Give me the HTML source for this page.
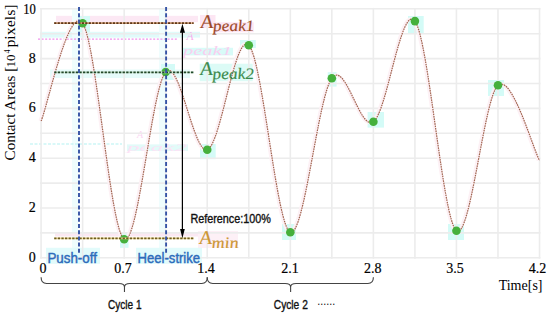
<!DOCTYPE html>
<html><head><meta charset="utf-8"><style>
html,body{margin:0;padding:0;background:#fff;}
svg{display:block;}
.serif{font-family:"Liberation Serif",serif;}
.sans{font-family:"Liberation Sans",sans-serif;}
</style></head><body>
<svg width="550" height="316" viewBox="0 0 550 316">
<rect width="550" height="316" fill="#fff"/>
<g id="ghost">
<rect x="56" y="15.8" width="142" height="6.4" fill="#fce8f4"/>
<rect x="40" y="31.8" width="160" height="5.8" fill="#e0fbfa"/>
<rect x="72" y="8" width="6" height="246" fill="#effdfd"/>
<rect x="159" y="8" width="6" height="246" fill="#effdfd"/>
<rect x="50" y="69.5" width="140" height="8.5" fill="#e6fbfa"/>
<rect x="55" y="232" width="145" height="4.5" fill="#fbe8f2"/>
<rect x="200" y="15" width="15.5" height="13" fill="#fde6f3"/>
<rect x="212.7" y="22.3" width="41" height="10" fill="#fde6f3"/>
<rect x="199.7" y="63.7" width="53" height="17.5" fill="#dcfbf6"/>
<rect x="198" y="231" width="40" height="17" fill="#fdf0f6"/>
<line x1="38" y1="39.2" x2="178" y2="39.2" stroke="#f092ec" stroke-width="1.3" stroke-dasharray="2 1.6"/>
<line x1="30" y1="144" x2="122" y2="144" stroke="#b4f2f2" stroke-width="1.2" stroke-dasharray="3 1.5"/>
<rect x="183" y="47.8" width="50" height="7.6" fill="#d8fbf8"/>
<text x="183" y="55" font-family="Liberation Serif" font-style="italic" font-size="12" fill="#f9d0f0" textLength="49" lengthAdjust="spacingAndGlyphs">peak1</text>
<text x="186.5" y="40" font-family="Liberation Serif" font-style="italic" font-size="11.5" fill="#f6b0ec">A</text>
<rect x="127" y="144.4" width="61" height="6.6" fill="#e2fbf9"/>
<text x="127" y="151" font-family="Liberation Serif" font-style="italic" font-size="11" fill="#fce3f6" textLength="60" lengthAdjust="spacingAndGlyphs">peak2</text>
<text x="137" y="138" font-family="Liberation Serif" font-style="italic" font-size="10" fill="#fbd8f3">A</text>
</g>
<g fill="#d4fbf7"><rect x="78.0" y="16.0" width="12.0" height="16.0"/><rect x="120.0" y="232.0" width="8.5" height="15.8"/><rect x="161.0" y="64.0" width="14.0" height="16.0"/><rect x="200.0" y="144.0" width="15.7" height="15.2"/><rect x="240.0" y="40.0" width="15.8" height="8.0"/><rect x="282.0" y="224.0" width="14.0" height="16.0"/><rect x="327.7" y="72.2" width="8.9" height="14.4"/><rect x="367.6" y="112.0" width="16.4" height="15.6"/><rect x="408.0" y="16.0" width="15.7" height="17.5"/><rect x="448.0" y="224.0" width="16.0" height="16.0"/><rect x="488.0" y="80.0" width="16.0" height="16.0"/></g>
<rect x="46" y="247.8" width="54" height="16" fill="#e2fbfb"/>
<rect x="136" y="247.8" width="66" height="16" fill="#e2fbfb"/>
<g stroke="#ececec" stroke-width="1.6" fill="none"><line x1="41.10" y1="7.90" x2="41.10" y2="258.70"/><line x1="82.63" y1="7.90" x2="82.63" y2="258.70"/><line x1="124.17" y1="7.90" x2="124.17" y2="258.70"/><line x1="165.70" y1="7.90" x2="165.70" y2="258.70"/><line x1="207.24" y1="7.90" x2="207.24" y2="258.70"/><line x1="248.77" y1="7.90" x2="248.77" y2="258.70"/><line x1="290.31" y1="7.90" x2="290.31" y2="258.70"/><line x1="331.84" y1="7.90" x2="331.84" y2="258.70"/><line x1="373.38" y1="7.90" x2="373.38" y2="258.70"/><line x1="414.91" y1="7.90" x2="414.91" y2="258.70"/><line x1="456.45" y1="7.90" x2="456.45" y2="258.70"/><line x1="497.98" y1="7.90" x2="497.98" y2="258.70"/><line x1="539.51" y1="7.90" x2="539.51" y2="258.70"/><line x1="40.20" y1="257.80" x2="540.41" y2="257.80"/><line x1="40.20" y1="232.90" x2="540.41" y2="232.90"/><line x1="40.20" y1="208.00" x2="540.41" y2="208.00"/><line x1="40.20" y1="183.10" x2="540.41" y2="183.10"/><line x1="40.20" y1="158.20" x2="540.41" y2="158.20"/><line x1="40.20" y1="133.30" x2="540.41" y2="133.30"/><line x1="40.20" y1="108.40" x2="540.41" y2="108.40"/><line x1="40.20" y1="83.50" x2="540.41" y2="83.50"/><line x1="40.20" y1="58.60" x2="540.41" y2="58.60"/><line x1="40.20" y1="33.70" x2="540.41" y2="33.70"/><line x1="40.20" y1="8.80" x2="540.41" y2="8.80"/></g>
<path d="M41.10,121.00 C48.02,104.72 68.79,3.60 82.63,23.30 C96.48,43.00 110.32,231.08 124.17,239.20 C138.01,247.32 151.86,86.92 165.70,72.00 C179.55,57.08 193.39,154.17 207.24,149.70 C221.08,145.23 234.93,31.45 248.77,45.20 C262.62,58.95 276.46,226.70 290.31,232.20 C304.15,237.70 318.00,96.62 331.84,78.20 C345.69,59.78 359.53,131.22 373.38,121.70 C387.22,112.18 401.07,2.93 414.91,21.10 C428.76,39.27 442.60,220.02 456.45,230.70 C470.29,241.38 484.13,96.92 497.98,85.20 C511.82,73.48 532.59,147.87 539.51,160.40" fill="none" stroke="#fdf1f5" stroke-width="3.5" transform="translate(-1,0)"/><path d="M41.10,121.00 C48.02,104.72 68.79,3.60 82.63,23.30 C96.48,43.00 110.32,231.08 124.17,239.20 C138.01,247.32 151.86,86.92 165.70,72.00 C179.55,57.08 193.39,154.17 207.24,149.70 C221.08,145.23 234.93,31.45 248.77,45.20 C262.62,58.95 276.46,226.70 290.31,232.20 C304.15,237.70 318.00,96.62 331.84,78.20 C345.69,59.78 359.53,131.22 373.38,121.70 C387.22,112.18 401.07,2.93 414.91,21.10 C428.76,39.27 442.60,220.02 456.45,230.70 C470.29,241.38 484.13,96.92 497.98,85.20 C511.82,73.48 532.59,147.87 539.51,160.40" fill="none" stroke="#a0644f" stroke-width="1.2" stroke-dasharray="1.6 0.8"/>
<g fill="#45b03c"><circle cx="82.63" cy="23.30" r="4.3"/><circle cx="124.17" cy="239.20" r="4.3"/><circle cx="165.70" cy="72.00" r="4.3"/><circle cx="207.24" cy="149.70" r="4.3"/><circle cx="248.77" cy="45.20" r="4.3"/><circle cx="290.31" cy="232.20" r="4.3"/><circle cx="331.84" cy="78.20" r="4.3"/><circle cx="373.38" cy="121.70" r="4.3"/><circle cx="414.91" cy="21.10" r="4.3"/><circle cx="456.45" cy="230.70" r="4.3"/><circle cx="497.98" cy="85.20" r="4.3"/></g>
<line x1="54.2" y1="23.1" x2="193.6" y2="23.1" stroke="#e3b088" stroke-width="1.8"/><line x1="54.2" y1="23.1" x2="193.6" y2="23.1" stroke="#5e3618" stroke-width="1.8" stroke-dasharray="2.2 1.25"/>
<line x1="54.2" y1="72.3" x2="193.6" y2="72.3" stroke="#cfe8d2" stroke-width="1.8"/><line x1="54.2" y1="72.3" x2="193.6" y2="72.3" stroke="#21472a" stroke-width="1.8" stroke-dasharray="2.3 1.3"/>
<line x1="54.2" y1="238.3" x2="193.6" y2="238.3" stroke="#f7e3a0" stroke-width="1.8"/><line x1="54.2" y1="238.3" x2="193.6" y2="238.3" stroke="#6e5c22" stroke-width="1.8" stroke-dasharray="2.3 1.3"/>
<g stroke="#3553a5" stroke-width="1.9" stroke-dasharray="4 2.2">
<line x1="79" y1="7" x2="79" y2="254.5"/>
<line x1="166.1" y1="7" x2="166.1" y2="254.5"/>
</g>
<g stroke="#000" stroke-width="1.2"><line x1="182.4" y1="31" x2="182.4" y2="231"/></g>
<path d="M182.4,23.7 L179.9,32.8 L185,32.8 Z M182.4,238.2 L180.1,229.1 L184.8,229.1 Z" fill="#000"/>
<g class="serif" font-size="14" fill="#000" stroke="#000" stroke-width="0.2" text-anchor="end"><text x="35.8" y="261.70">0</text><text x="35.8" y="211.90">2</text><text x="35.8" y="162.10">4</text><text x="35.8" y="112.30">6</text><text x="35.8" y="62.50">8</text><text x="35.8" y="14.40" textLength="12.6" lengthAdjust="spacingAndGlyphs">10</text></g>
<g class="serif" font-size="14" fill="#000" stroke="#000" stroke-width="0.2" text-anchor="middle"><text x="42.95" y="273">0</text><text x="123.00" y="273">0.7</text><text x="206.00" y="273">1.4</text><text x="290.10" y="273">2.1</text><text x="372.80" y="273">2.8</text><text x="455.00" y="273">3.5</text><text x="537.50" y="273">4.2</text></g>
<text class="serif" x="542.5" y="290.3" font-size="14" text-anchor="end">Time[s]</text>
<g class="serif" transform="translate(14.6,0) rotate(-90)">
<text x="-160.4" y="0" font-size="15.2" textLength="93.6" lengthAdjust="spacingAndGlyphs">Contact Areas [</text>
<text x="-67.4" y="0" font-size="13">10</text>
<text x="-53.5" y="-5" font-size="8">4</text>
<text x="-47.6" y="0" font-size="15" textLength="43.2" lengthAdjust="spacingAndGlyphs">pixels]</text>
</g>
<g transform="translate(201,27.7) skewX(5)" class="serif" font-style="italic" fill="#9c4a28" stroke="#9c4a28" stroke-width="0.15"><text x="0" y="0" font-size="19.5" textLength="12.5" lengthAdjust="spacingAndGlyphs">A</text><text x="12" y="3.7" font-size="16" textLength="41.5" lengthAdjust="spacingAndGlyphs">peak1</text></g>
<g transform="translate(200.5,75.1) skewX(5)" class="serif" font-style="italic" fill="#3b8a4c" stroke="#3b8a4c" stroke-width="0.15"><text x="0" y="0" font-size="19.5" textLength="12.5" lengthAdjust="spacingAndGlyphs">A</text><text x="12" y="4.2" font-size="16" textLength="41.5" lengthAdjust="spacingAndGlyphs">peak2</text></g>
<g transform="translate(199.7,243.9) skewX(5)" class="serif" font-style="italic" fill="#cc9632" stroke="#cc9632" stroke-width="0.15"><text x="0" y="0" font-size="19.5" textLength="12.5" lengthAdjust="spacingAndGlyphs">A</text><text x="12" y="3.6" font-size="16" textLength="27" lengthAdjust="spacingAndGlyphs">min</text></g>
<text class="sans" x="190.4" y="223" font-size="12" fill="#111" stroke="#111" stroke-width="0.35" textLength="80.5" lengthAdjust="spacingAndGlyphs">Reference:100%</text>
<text class="sans" x="47.4" y="263.3" font-size="14.8" fill="#2d6bbb" stroke="#2d6bbb" stroke-width="0.45" textLength="49.5" lengthAdjust="spacingAndGlyphs">Push-off</text>
<text class="sans" x="137.6" y="263.1" font-size="14.8" fill="#2d6bbb" stroke="#2d6bbb" stroke-width="0.45" textLength="62.5" lengthAdjust="spacingAndGlyphs">Heel-strike</text>
<g stroke="#444" stroke-width="1.1" fill="none"><path d="M41.10,277.30 Q41.10,283.50 46.60,283.50 L118.97,283.50 C122.47,283.50 124.47,284.50 124.47,287.00 L124.47,292.00 M124.47,287.00 C124.47,284.50 126.47,283.50 129.97,283.50 L201.74,283.50 Q207.24,283.50 207.24,277.30"/><path d="M207.24,277.30 Q207.24,283.50 212.74,283.50 L285.11,283.50 C288.61,283.50 290.61,284.50 290.61,287.00 L290.61,292.00 M290.61,287.00 C290.61,284.50 292.61,283.50 296.11,283.50 L367.88,283.50 Q373.38,283.50 373.38,277.30"/></g>
<text class="sans" x="108" y="309.2" font-size="12" fill="#111" stroke="#111" stroke-width="0.35" textLength="33.5" lengthAdjust="spacingAndGlyphs">Cycle 1</text>
<text class="sans" x="273.8" y="309" font-size="12" fill="#111" stroke="#111" stroke-width="0.35" textLength="34" lengthAdjust="spacingAndGlyphs">Cycle 2</text>
<text class="sans" x="317.2" y="305" font-size="12" fill="#111" textLength="18" lengthAdjust="spacingAndGlyphs">......</text>
</svg>
</body></html>
